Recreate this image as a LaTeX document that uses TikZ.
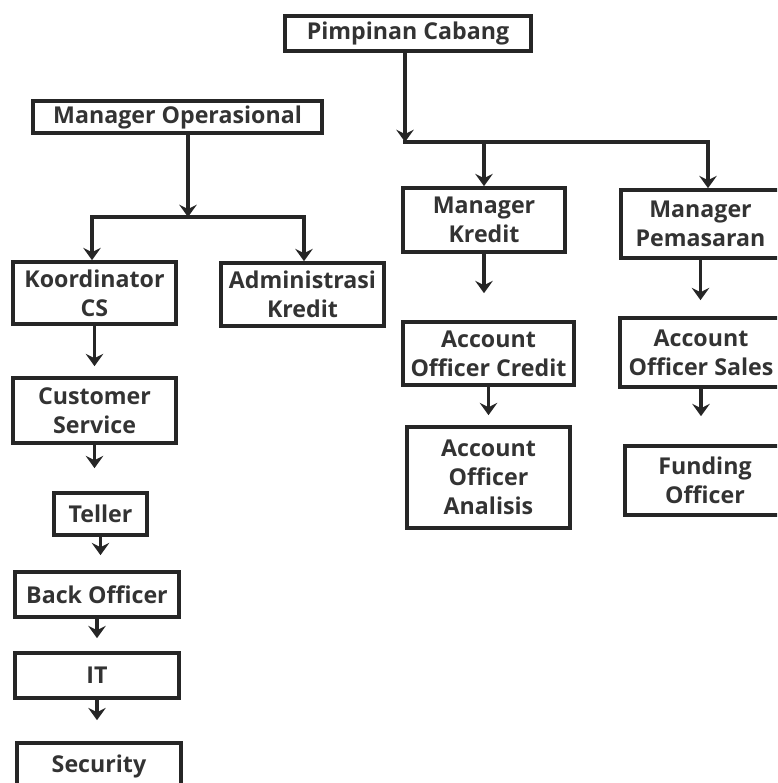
\documentclass[tikz,border=0pt]{standalone}
\usepackage{fontspec}
\setmainfont{Open Sans}
\usetikzlibrary{arrows.meta}
\tikzset{
    unit/.style={draw=black!85, line width=2.1pt, align=center, inner sep=0pt,
        font=\fontsize{13.2}{16.5}\selectfont\bfseries, text=black!80},
    link/.style={draw=black!85, line width=2.2pt, line cap=rect},
    arr/.style={draw=black!85, line width=2.2pt, -{Stealth[length=7pt,width=10pt,inset=2.5pt]}}
}
\begin{document}
\begin{tikzpicture}[x=0.02cm,y=-0.02cm]
        % Define canvas
        \useasboundingbox (0,0) rectangle (777,783);
        \clip (0,0) rectangle (777,783);
        % Top level
        \node[unit, minimum width=4.92cm, minimum height=0.70cm] (pimpinan) at (408,33.5) {Pimpinan Cabang};
        \node[unit, minimum width=5.78cm, minimum height=0.64cm] (mgrops) at (177.5,117) {Manager Operasional};
        % Right branch
        \node[unit, minimum width=3.24cm, minimum height=1.28cm] (mgrkredit) at (484,220) {Manager\\Kredit};
        \node[unit, minimum width=3.18cm, minimum height=1.36cm] (mgrpemasaran) at (700.5,224) {Manager\\Pemasaran};
        \node[unit, minimum width=3.42cm, minimum height=1.26cm] (aoc) at (488.5,353.5) {Account\\Officer Credit};
        \node[unit, minimum width=3.24cm, minimum height=1.38cm] (aos) at (701,352.5) {Account\\Officer Sales};
        \node[unit, minimum width=3.26cm, minimum height=2.02cm] (aoa) at (488.5,477.5) {Account\\Officer\\Analisis};
        \node[unit, minimum width=3.20cm, minimum height=1.38cm] (funding) at (705,480.5) {Funding\\Officer};
        % Left branch
        \node[unit, minimum width=3.26cm, minimum height=1.24cm] (koor) at (94.5,293) {Koordinator\\CS};
        \node[unit, minimum width=3.26cm, minimum height=1.26cm] (admin) at (302.5,294.5) {Administrasi\\Kredit};
        \node[unit, minimum width=3.26cm, minimum height=1.30cm] (cs) at (94.5,410.5) {Customer\\Service};
        \node[unit, minimum width=1.86cm, minimum height=0.84cm] (teller) at (100.5,514) {Teller};
        \node[unit, minimum width=3.28cm, minimum height=0.90cm] (backoff) at (97,594.5) {Back Officer};
        \node[unit, minimum width=3.28cm, minimum height=0.90cm] (it) at (97,675.5) {IT};
        \node[unit, minimum width=3.28cm, minimum height=0.92cm] (security) at (99,766) {Security};
        % Junctions
        \coordinate (jtop) at (405,142);
        \coordinate (jright) at (708,142);
        \coordinate (jops) at (188,217);
        \coordinate (jkoor) at (92,217);
        \coordinate (jadmin) at (304,217);
        % Connectors from the top
        \draw[arr] (pimpinan.south -| jtop) -- (jtop);
        \draw[link] (jtop) -- (jright);
        \draw[arr] (mgrkredit.north |- jtop) -- (mgrkredit.north);
        \draw[arr] (jright) -- (jright |- mgrpemasaran.north);
        \draw[arr] (mgrops.south -| jops) -- (jops);
        \draw[link] (jkoor) -- (jadmin);
        \draw[arr] (jkoor) -- (jkoor |- koor.north);
        \draw[arr] (jadmin) -- (jadmin |- admin.north);
        % Vertical chains
        \foreach \a/\b/\gap in {koor/cs/0.2cm, cs/teller/0.46cm, teller/backoff/0.3cm,
            backoff/it/0.26cm, it/security/0.42cm, mgrkredit/aoc/0.54cm,
            mgrpemasaran/aos/0.32cm, aoc/aoa/0.2cm, aos/funding/0.56cm}
            \draw[arr, shorten >=\gap] (\a.south) -- (\a.south |- \b.north);
    \end{tikzpicture}
\end{document}
